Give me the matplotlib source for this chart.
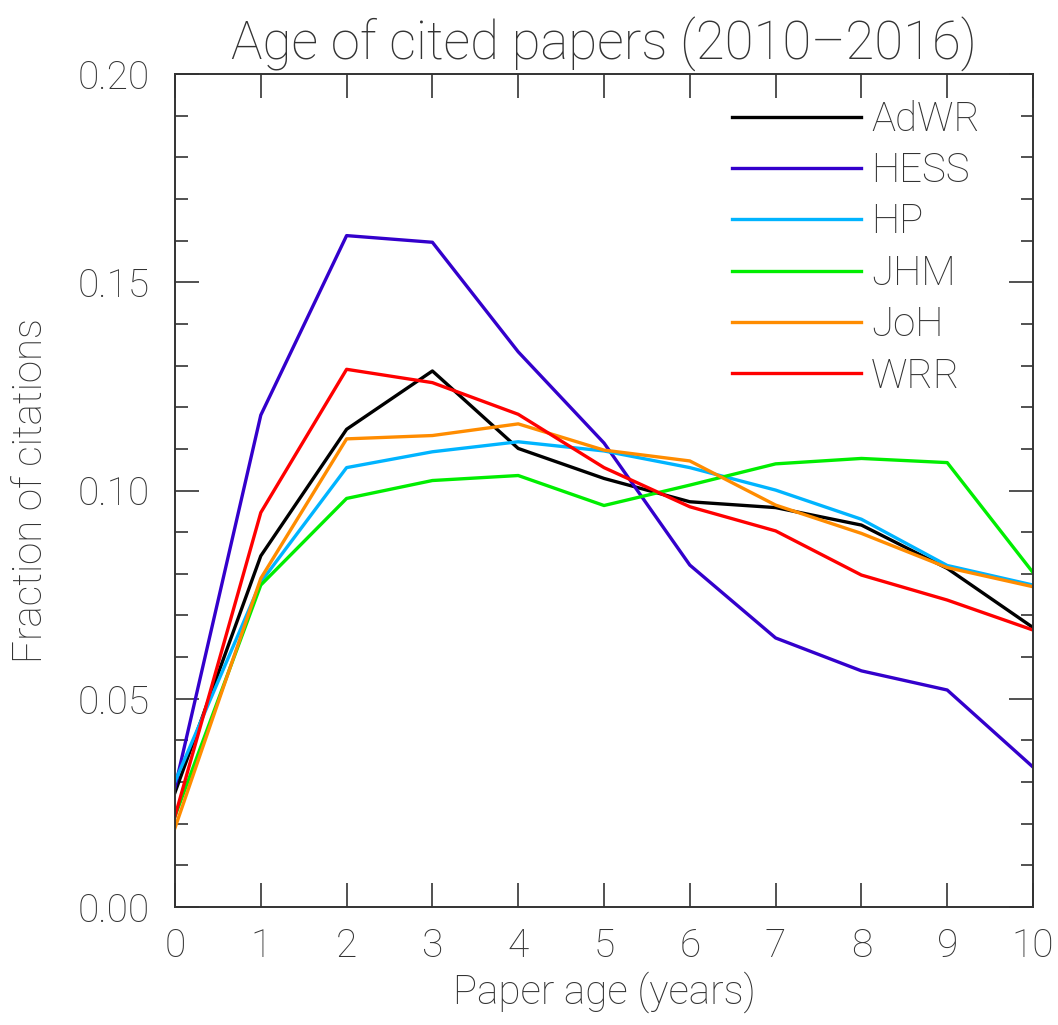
import matplotlib
matplotlib.use("Agg")
import matplotlib.pyplot as plt
import numpy as np
from matplotlib.ticker import MultipleLocator

plt.rcParams['font.family'] = ['Roboto', 'DejaVu Sans']
plt.rcParams['font.weight'] = 'light'

# values
ages = [0, 1, 2, 3, 4, 5, 6, 7, 8, 9, 10]
journals = ["AdWR", "HESS", "HP", "JHM", "JoH", "WRR"]
colors = ["black", "#3300cc", "#00b4ff", "#00ee00", "#ff8c00", "#ff0000"]

adwr = [0.0275, 0.0843, 0.1147, 0.1287, 0.1101, 0.1029, 0.0973, 0.0959, 0.0917, 0.0813, 0.0671]
hess = [0.0287, 0.1181, 0.1612, 0.1596, 0.1333, 0.1114, 0.0821, 0.0646, 0.0567, 0.0521, 0.0336]
hp = [0.0301, 0.0780, 0.1055, 0.1093, 0.1117, 0.1095, 0.1055, 0.1001, 0.0931, 0.0820, 0.0773]
jhm = [0.0218, 0.0773, 0.0981, 0.1024, 0.1036, 0.0964, 0.1013, 0.1064, 0.1077, 0.1067, 0.0803]
joh = [0.0190, 0.0789, 0.1124, 0.1132, 0.1160, 0.1097, 0.1071, 0.0965, 0.0897, 0.0815, 0.0769]
wrr = [0.0218, 0.0947, 0.1291, 0.1259, 0.1183, 0.1055, 0.0961, 0.0903, 0.0797, 0.0737, 0.0665]
series = [adwr, hess, hp, jhm, joh, wrr]

fig = plt.figure(figsize=(10.58, 10.25), dpi=100)
ax = fig.add_axes([0.1654, 0.1151, 0.811, 0.8127])

for name, vals, c in zip(journals, series, colors):
    ax.plot(ages, vals, color=c, lw=2.4, label=name)

ax.set_xlim(0, 10)
ax.set_ylim(0, 0.2)
ax.xaxis.set_major_locator(MultipleLocator(1))
ax.yaxis.set_major_locator(MultipleLocator(0.05))
ax.yaxis.set_minor_locator(MultipleLocator(0.01))
ax.yaxis.set_major_formatter(matplotlib.ticker.FormatStrFormatter('%.2f'))
ax.tick_params(which='both', direction='in', top=True, right=True, labelsize=28, color='#333333',
               labelcolor='#333333')
ax.tick_params(which='major', length=17, width=1.2, pad=18)
ax.tick_params(axis='x', which='major', pad=15)
ax.tick_params(which='minor', length=9, width=1.2)
for s in ax.spines.values():
    s.set_linewidth(1.4)
    s.set_color('#333333')

ax.set_xlabel("Paper age (years)", fontsize=29, labelpad=4, color='#333333', fontweight='light')
ax.set_ylabel("Fraction of citations", fontsize=29, labelpad=20, color='#333333', fontweight='light')
ax.set_title("Age of cited papers (2010\u20132016)", fontsize=38, pad=10, color='#333333',
             fontweight='light')

leg = ax.legend(loc='upper right', bbox_to_anchor=(0.957, 0.988), frameon=False, fontsize=29,
                handlelength=3.2, handletextpad=0.25, labelspacing=0.32, borderaxespad=0)
for t in leg.get_texts():
    t.set_color('#333333')

fig.savefig("out.png", dpi=100)
